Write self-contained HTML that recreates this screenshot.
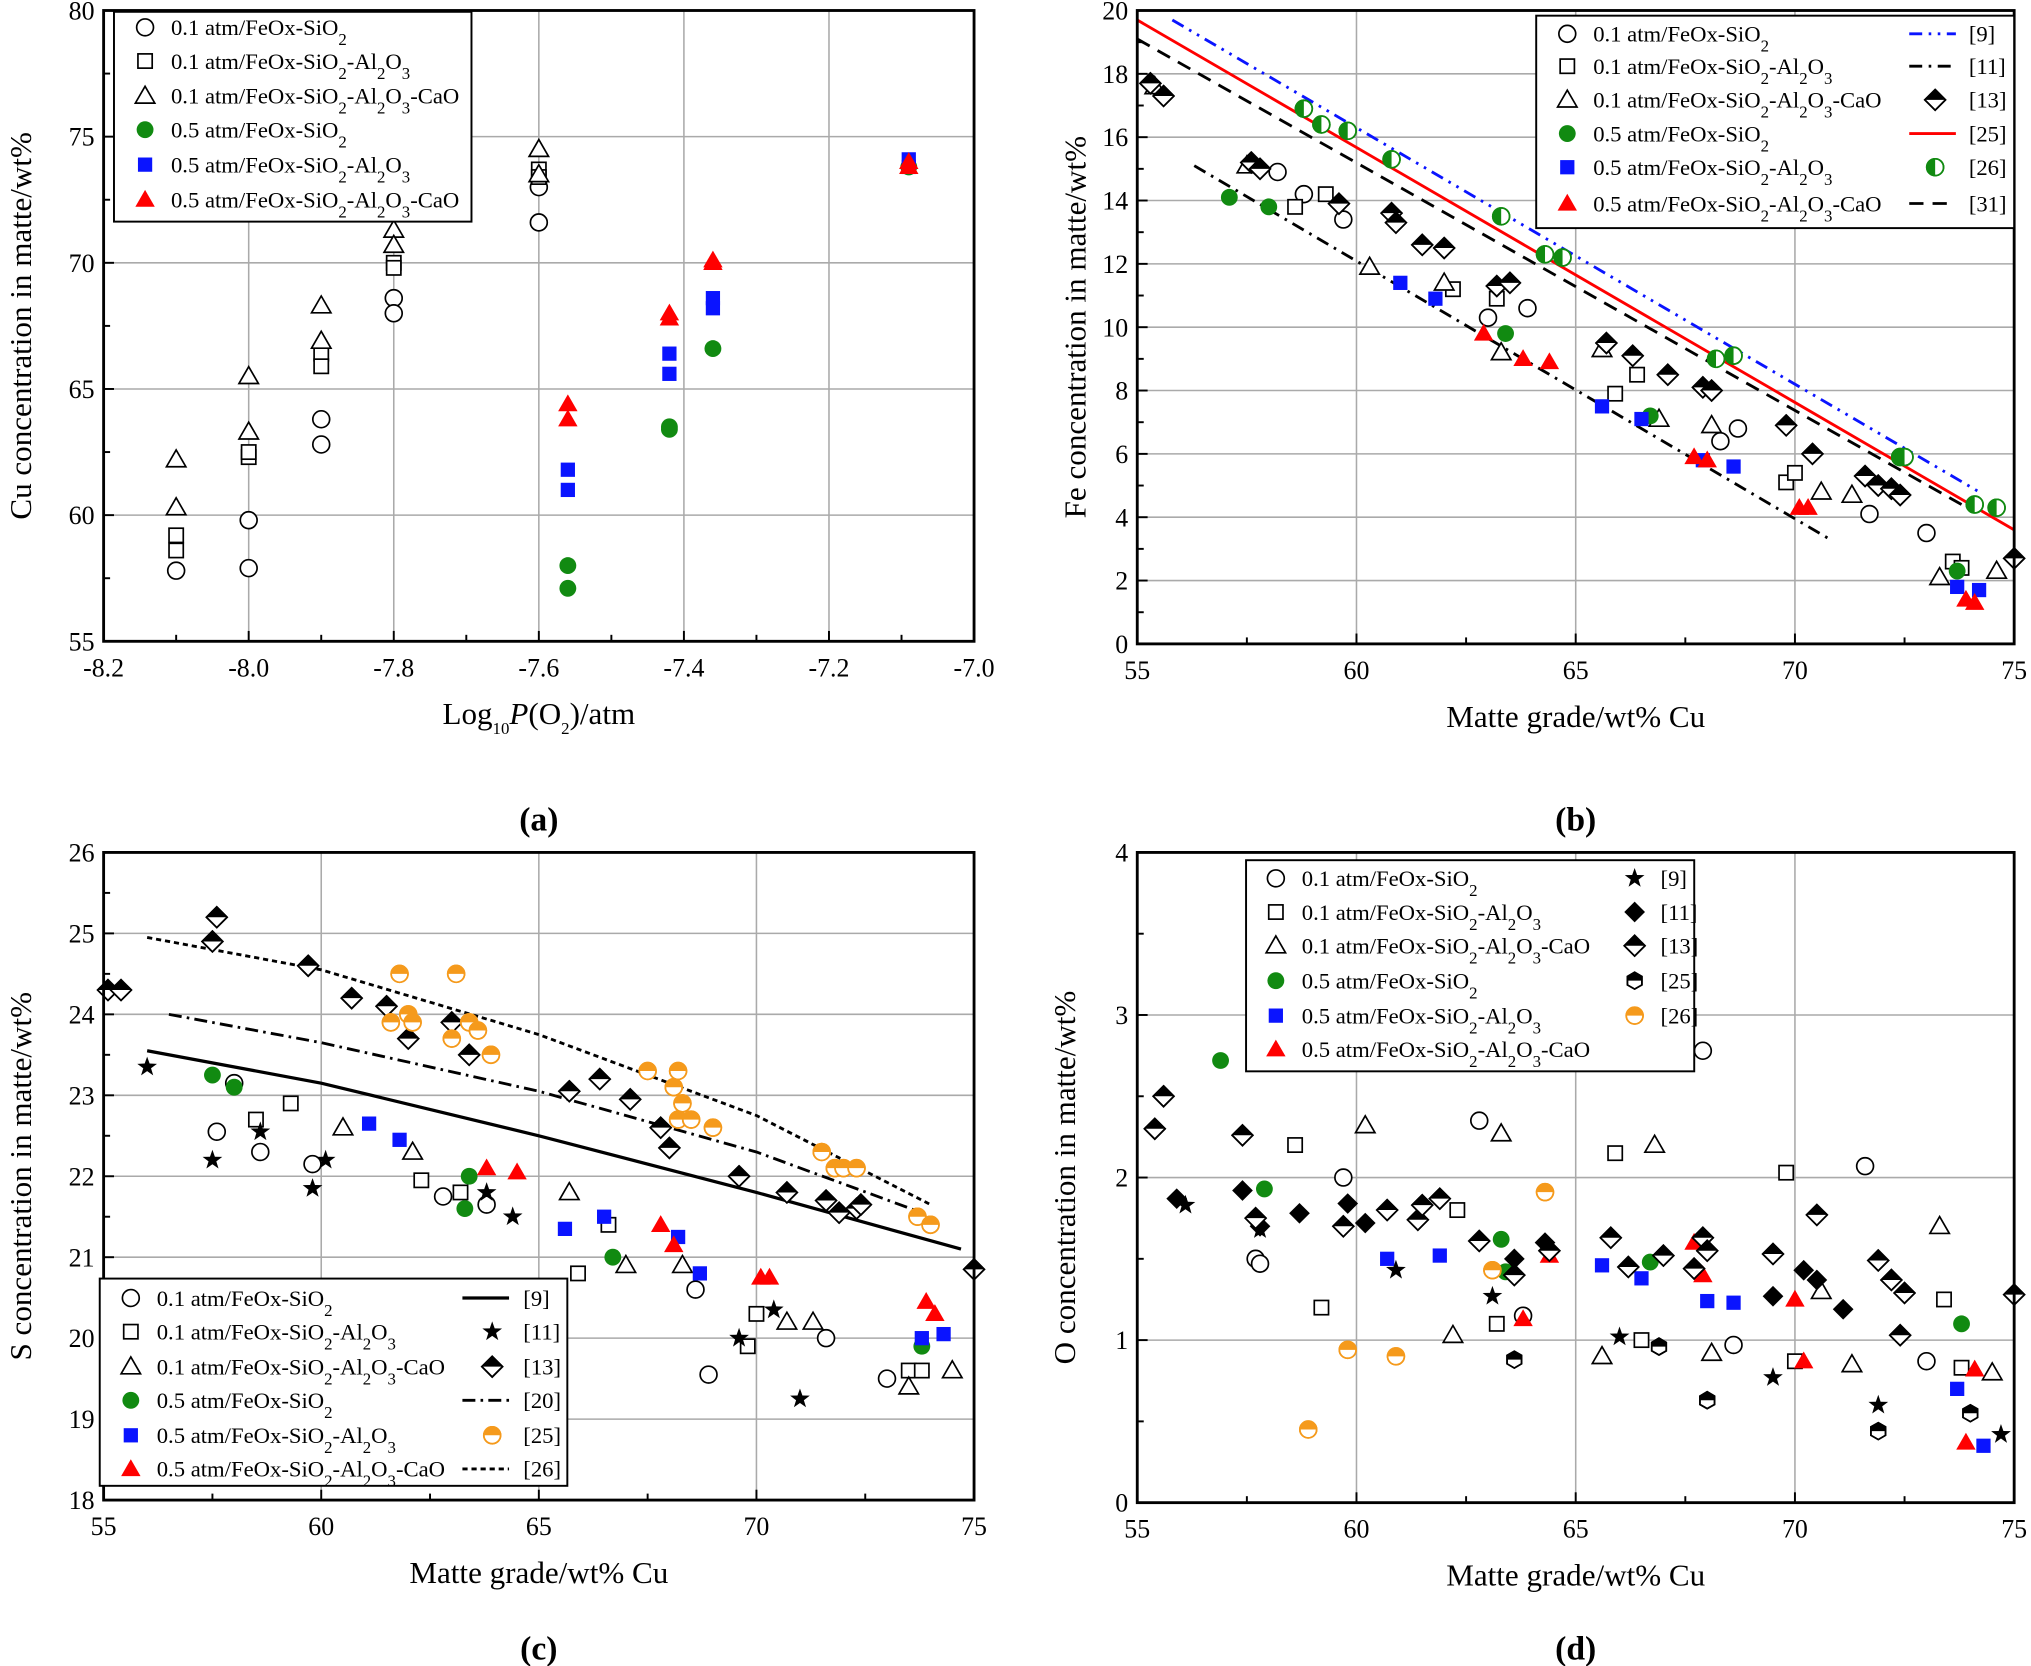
<!DOCTYPE html>
<html><head><meta charset="utf-8"><style>
html,body{margin:0;padding:0;background:#fff;}
svg{display:block;font-family:"Liberation Serif",serif;}
</style></head><body>
<svg id="root" width="2031" height="1666" viewBox="0 0 1568 1286" xmlns="http://www.w3.org/2000/svg">
<defs>
<clipPath id="hl" clipPathUnits="objectBoundingBox"><rect x="0" y="0" width="0.5" height="1"/></clipPath>
<clipPath id="ht" clipPathUnits="objectBoundingBox"><rect x="0" y="0" width="1" height="0.5"/></clipPath>
</defs>
</svg>
<script>
// ---------- Panel (a) data ----------
const aCircle=[[-8.1,57.8],[-8.0,59.8],[-8.0,57.9],[-7.9,63.8],[-7.9,62.8],[-7.8,68.6],[-7.8,68.0],[-7.6,73.0],[-7.6,71.6]];
const aSquare=[[-8.1,59.2],[-8.1,58.6],[-8.0,62.3],[-8.0,62.5],[-7.9,66.4],[-7.9,65.9],[-7.8,70.0],[-7.8,69.8],[-7.6,73.7],[-7.6,73.4]];
const aTri=[[-8.1,62.2],[-8.1,60.3],[-8.0,65.5],[-8.0,63.3],[-7.9,68.3],[-7.9,66.9],[-7.8,71.3],[-7.8,70.7],[-7.6,74.5],[-7.6,73.5]];
const aGreen=[[-7.56,58.0],[-7.56,57.1],[-7.42,63.5],[-7.42,63.4],[-7.36,66.6],[-7.09,73.8]];
const aBlue=[[-7.56,61.8],[-7.56,61.0],[-7.42,66.4],[-7.42,65.6],[-7.36,68.6],[-7.36,68.2],[-7.09,74.1],[-7.09,73.8]];
const aRed=[[-7.56,64.4],[-7.56,63.8],[-7.42,68.0],[-7.42,67.8],[-7.36,70.1],[-7.36,70.0],[-7.09,74.0],[-7.09,73.8]];
const aXTicks=[-8.2,-8.0,-7.8,-7.6,-7.4,-7.2,-7.0];
const aXLabels=["-8.2","-8.0","-7.8","-7.6","-7.4","-7.2","-7.0"];
const aYTicks=[55,60,65,70,75,80];
// ---------- Panel (b) data ----------
const bCircle=[[58.2,14.9],[58.8,14.2],[59.7,13.4],[63.0,10.3],[63.9,10.6],[68.3,6.4],[68.7,6.8],[71.7,4.1],[73.0,3.5]];
const bSquare=[[58.6,13.8],[59.3,14.2],[62.2,11.2],[63.2,10.9],[65.9,7.9],[66.4,8.5],[69.8,5.1],[70.0,5.4],[73.6,2.6],[73.8,2.4]];
const bTri=[[55.4,17.6],[57.5,15.1],[60.3,11.9],[62.0,11.4],[63.3,9.2],[65.6,9.3],[66.9,7.1],[68.1,6.9],[70.6,4.8],[71.3,4.7],[73.3,2.1],[74.6,2.3]];
const bGreen=[[57.1,14.1],[58.0,13.8],[63.4,9.8],[66.7,7.2],[73.7,2.3]];
const bBlue=[[61.0,11.4],[61.8,10.9],[65.6,7.5],[66.5,7.1],[67.9,5.8],[68.6,5.6],[73.7,1.8],[74.2,1.7]];
const bRed=[[62.9,9.8],[63.8,9.0],[64.4,8.9],[67.7,5.9],[68.0,5.8],[70.1,4.3],[70.3,4.3],[73.9,1.4],[74.1,1.3]];
const bRef13=[[55.3,17.7],[55.6,17.3],[57.6,15.2],[57.8,15.0],[59.6,13.9],[60.8,13.6],[60.9,13.3],[61.5,12.6],[62.0,12.5],[63.2,11.3],[63.5,11.4],[65.7,9.5],[66.3,9.1],[67.1,8.5],[67.9,8.1],[68.1,8.0],[69.8,6.9],[70.4,6.0],[71.6,5.3],[71.9,5.0],[72.2,4.9],[72.4,4.7],[75.0,2.7]];
const bRef26=[[58.8,16.9],[59.2,16.4],[59.8,16.2],[60.8,15.3],[63.3,13.5],[64.3,12.3],[64.7,12.2],[68.2,9.0],[68.6,9.1],[72.4,5.9],[72.5,5.9],[74.1,4.4],[74.6,4.3]];
const bLine9=[[55.8,19.7],[74.2,4.8]];
const bLine11=[[56.3,15.1],[70.8,3.3]];
const bLine25=[[55,19.7],[75,3.6]];
const bLine31=[[55,19.1],[73.8,4.4]];
const bXTicks=[55,60,65,70,75];
const bYTicks=[0,2,4,6,8,10,12,14,16,18,20];
// ---------- Panel (c) data ----------
const cCircle=[[57.6,22.55],[58.0,23.15],[58.6,22.3],[59.8,22.15],[62.8,21.75],[63.8,21.65],[68.6,20.6],[68.9,19.55],[71.6,20.0],[73.0,19.5]];
const cSquare=[[58.5,22.7],[59.3,22.9],[62.3,21.95],[63.2,21.8],[65.9,20.8],[66.6,21.4],[70.0,20.3],[69.8,19.9],[73.5,19.6],[73.8,19.6]];
const cTri=[[60.5,22.6],[62.1,22.3],[65.7,21.8],[67.0,20.9],[68.3,20.9],[70.7,20.2],[71.3,20.2],[73.5,19.4],[74.5,19.6]];
const cGreen=[[57.5,23.25],[58.0,23.1],[63.4,22.0],[63.3,21.6],[66.7,21.0],[73.8,19.9]];
const cBlue=[[61.1,22.65],[61.8,22.45],[65.6,21.35],[66.5,21.5],[68.2,21.25],[68.7,20.8],[73.8,20.0],[74.3,20.05]];
const cRed=[[63.8,22.1],[64.5,22.05],[67.8,21.4],[68.1,21.15],[70.1,20.75],[70.3,20.75],[73.9,20.45],[74.1,20.3]];
const cRef11=[[56.0,23.35],[57.5,22.2],[58.6,22.55],[59.8,21.85],[60.1,22.2],[63.8,21.8],[64.4,21.5],[69.6,20.0],[70.4,20.35],[71.0,19.25]];
const cRef13=[[55.1,24.3],[55.4,24.3],[57.5,24.9],[57.6,25.2],[59.7,24.6],[60.7,24.2],[61.5,24.1],[62.0,23.7],[63.0,23.9],[63.4,23.5],[65.7,23.05],[66.4,23.2],[67.1,22.95],[67.8,22.6],[68.0,22.35],[69.6,22.0],[70.7,21.8],[71.6,21.7],[71.9,21.55],[72.3,21.6],[72.4,21.65],[75.0,20.85]];
const cRef25=[[61.6,23.9],[61.8,24.5],[62.0,24.0],[62.1,23.9],[63.1,24.5],[63.0,23.7],[63.4,23.9],[63.6,23.8],[63.9,23.5],[67.5,23.3],[68.1,23.1],[68.2,23.3],[68.3,22.9],[68.2,22.7],[68.5,22.7],[69.0,22.6],[71.5,22.3],[71.8,22.1],[72.0,22.1],[72.3,22.1],[73.7,21.5],[74.0,21.4]];
const cLine9=[[56,23.55],[60,23.15],[65,22.5],[70,21.8],[74.7,21.1]];
const cLine20=[[56.5,24.0],[60,23.65],[65,23.05],[70,22.3],[73.8,21.55]];
const cLine26=[[56,24.95],[60,24.55],[65,23.75],[70,22.75],[74,21.65]];
const cXTicks=[55,60,65,70,75];
const cYTicks=[18,19,20,21,22,23,24,25,26];
// ---------- Panel (d) data ----------
const dCircle=[[57.7,1.5],[57.8,1.47],[59.7,2.0],[62.8,2.35],[63.8,1.15],[68.6,0.97],[67.9,2.78],[71.6,2.07],[73.0,0.87]];
const dSquare=[[58.6,2.2],[59.2,1.2],[62.3,1.8],[63.2,1.1],[65.9,2.15],[66.5,1.0],[69.8,2.03],[70.0,0.87],[73.4,1.25],[73.8,0.83]];
const dTri=[[60.2,2.32],[62.2,1.03],[63.3,2.27],[65.6,0.9],[66.8,2.2],[68.1,0.92],[70.6,1.3],[71.3,0.85],[73.3,1.7],[74.5,0.8]];
const dGreen=[[56.9,2.72],[57.9,1.93],[63.3,1.62],[63.4,1.42],[66.7,1.48],[73.8,1.1]];
const dBlue=[[60.7,1.5],[61.9,1.52],[65.6,1.46],[66.5,1.38],[68.0,1.24],[68.6,1.23],[73.7,0.7],[74.3,0.35]];
const dRed=[[63.8,1.13],[64.4,1.52],[67.7,1.6],[67.9,1.4],[70.0,1.25],[70.2,0.87],[73.9,0.37],[74.1,0.82]];
const dRef9=[[56.1,1.83],[57.8,1.68],[60.9,1.43],[63.1,1.27],[66.0,1.02],[69.5,0.77],[71.9,0.6],[74.7,0.42]];
const dRef11=[[55.9,1.87],[57.4,1.92],[57.8,1.7],[58.7,1.78],[59.8,1.84],[60.2,1.72],[63.6,1.5],[64.3,1.6],[69.5,1.27],[70.2,1.43],[70.5,1.37],[71.1,1.19]];
const dRef13=[[55.4,2.3],[55.6,2.5],[57.4,2.26],[57.7,1.75],[59.7,1.7],[60.7,1.8],[61.4,1.74],[61.5,1.83],[61.9,1.87],[62.8,1.61],[63.6,1.4],[64.4,1.55],[65.8,1.63],[66.2,1.45],[67.0,1.52],[67.9,1.63],[67.7,1.44],[68.0,1.55],[69.5,1.53],[70.5,1.77],[71.9,1.49],[72.2,1.37],[72.5,1.29],[72.4,1.03],[75.0,1.28]];
const dRef25=[[63.6,0.88],[66.9,0.96],[68.0,0.63],[71.9,0.44],[74.0,0.55]];
const dRef26=[[58.9,0.45],[59.8,0.94],[60.9,0.9],[63.1,1.43],[64.3,1.91]];
const dXTicks=[55,60,65,70,75];
const dYTicks=[0,1,2,3,4];

const NS="http://www.w3.org/2000/svg";
const root=document.getElementById('root');
function el(tag,attrs,parent){const e=document.createElementNS(NS,tag);for(const k in attrs)e.setAttribute(k,attrs[k]);(parent||root).appendChild(e);return e;}

function shapePath(shape,x,y){
  const r=6.5;
  if(shape==='circle')return {tag:'circle',a:{cx:x,cy:y,r:r}};
  if(shape==='square')return {tag:'rect',a:{x:x-5.5,y:y-5.5,width:11,height:11}};
  if(shape==='tri')return {tag:'polygon',a:{points:`${x},${y-7.5} ${x-7.5},${y+5.5} ${x+7.5},${y+5.5}`}};
  if(shape==='diamond')return {tag:'polygon',a:{points:`${x},${y-8} ${x+8},${y} ${x},${y+8} ${x-8},${y}`}};
  if(shape==='hex'){let p=[];for(let i=0;i<6;i++){const t=Math.PI/3*i+Math.PI/6;p.push((x+6.5*Math.cos(t)).toFixed(1)+','+(y+6.5*Math.sin(t)).toFixed(1));}return {tag:'polygon',a:{points:p.join(' ')}};}
  if(shape==='star'){let p=[];for(let i=0;i<10;i++){const rr=i%2?3.2:8;const t=-Math.PI/2+Math.PI/5*i;p.push((x+rr*Math.cos(t)).toFixed(1)+','+(y+rr*Math.sin(t)).toFixed(1));}return {tag:'polygon',a:{points:p.join(' ')}};}
}
function drawMarker(g,style,x,y){
  const s=shapePath(style.shape,x,y);
  if(style.half){
    el(s.tag,Object.assign({},s.a,{fill:'#fff',stroke:style.stroke||'#000','stroke-width':1.3}),g);
    el(s.tag,Object.assign({},s.a,{fill:style.fill,stroke:'none','clip-path':'url(#'+style.half+')'}),g);
    el(s.tag,Object.assign({},s.a,{fill:'none',stroke:style.stroke||'#000','stroke-width':1.3}),g);
  } else {
    el(s.tag,Object.assign({},s.a,{fill:style.fill,stroke:style.stroke||'none','stroke-width':1.3}),g);
  }
}
const ST={
  circle:{shape:'circle',fill:'#fff',stroke:'#000'},
  square:{shape:'square',fill:'#fff',stroke:'#000'},
  tri:{shape:'tri',fill:'#fff',stroke:'#000'},
  green:{shape:'circle',fill:'#118a11'},
  blue:{shape:'square',fill:'#0a14ff'},
  red:{shape:'tri',fill:'#ff0000'},
  star:{shape:'star',fill:'#000'},
  diamondFull:{shape:'diamond',fill:'#000'},
  diamondHalf:{shape:'diamond',fill:'#000',half:'ht'},
  hexHalf:{shape:'hex',fill:'#000',half:'ht'},
  greenHalf:{shape:'circle',fill:'#118a11',stroke:'#118a11',half:'hl'},
  orangeHalf:{shape:'circle',fill:'#f59a1c',stroke:'#f59a1c',half:'ht'}
};

function panel(cfg){
  const g=el('g',{});
  
  
  const {L,R,T,B,x0,x1,y0,y1}=cfg;
  const sx=v=>L+(v-x0)/(x1-x0)*(R-L);
  const sy=v=>B-(v-y0)/(y1-y0)*(B-T);
  cfg.xTicks.forEach(v=>{if(v>x0&&v<x1){const l=el('line',{x1:sx(v),x2:sx(v),y1:T,y2:B,stroke:'#aaa','stroke-width':1.2},g);}});
  cfg.yTicks.forEach(v=>{if(v>y0&&v<y1){const l=el('line',{x1:L,x2:R,y1:sy(v),y2:sy(v),stroke:'#aaa','stroke-width':1.2},g);}});
  for(let i=0;i<cfg.xTicks.length-1;i++){const m=(cfg.xTicks[i]+cfg.xTicks[i+1])/2;el('line',{x1:sx(m),x2:sx(m),y1:B,y2:B-5,stroke:'#000','stroke-width':1.5},g);}
  for(let i=0;i<cfg.yTicks.length-1;i++){const m=(cfg.yTicks[i]+cfg.yTicks[i+1])/2;el('line',{x1:L,x2:L+5,y1:sy(m),y2:sy(m),stroke:'#000','stroke-width':1.5},g);}
  cfg.xTicks.forEach((v,i)=>{el('line',{x1:sx(v),x2:sx(v),y1:B,y2:B-8,stroke:'#000','stroke-width':1.5},g);
    const t=el('text',{x:sx(v),y:B+27,'text-anchor':'middle','font-size':20},g);t.textContent=cfg.xLabels?cfg.xLabels[i]:String(v);
    });
  cfg.yTicks.forEach(v=>{el('line',{x1:L,x2:L+8,y1:sy(v),y2:sy(v),stroke:'#000','stroke-width':1.5},g);
    const t=el('text',{x:L-7,y:sy(v)+7,'text-anchor':'end','font-size':20},g);t.textContent=String(v);
    });
  (cfg.lines||[]).forEach(ln=>{
    const p=el('polyline',{points:ln.data.map(d=>sx(d[0])+','+sy(d[1])).join(' '),fill:'none',stroke:ln.color,'stroke-width':ln.w||2.2,'stroke-dasharray':ln.dash||'none'},g);
    
  });
  cfg.series.forEach(s=>{
    const sg=el('g',{},g);
    
    
    s.data.forEach(d=>drawMarker(sg,s.style,sx(d[0]),sy(d[1])));
  });
  const f=el('rect',{x:L,y:T,width:R-L,height:B-T,fill:'none',stroke:'#000','stroke-width':2.2},g);
  
  const lg=cfg.legend;
  const lgG=el('g',{},g);
  
  
  el('rect',{x:lg.x,y:lg.y,width:lg.w,height:lg.h,fill:'#fff',stroke:'#000','stroke-width':1.5},lgG);
  lg.items.forEach(it=>{
    const eg=el('g',{},lgG);
    
    
    if(it.style)drawMarker(eg,it.style,it.mx,it.y);
    if(it.line)el('line',{x1:it.mx-20,x2:it.mx+16,y1:it.y,y2:it.y,stroke:it.line.color,'stroke-width':it.line.w||2.2,'stroke-dasharray':it.line.dash||'none'},eg);
    const t=el('text',{x:it.tx,y:it.y+6,'font-size':17.5},eg);t.innerHTML=it.label;
  });
  const xt=el('text',{x:(L+R)/2,y:B+64,'text-anchor':'middle','font-size':24},g);xt.innerHTML=cfg.xTitle;
  
  const yt=el('text',{x:0,y:0,'text-anchor':'middle','font-size':24,transform:`translate(${cfg.yTitleX},${(T+B)/2}) rotate(-90)`},g);yt.textContent=cfg.yTitle;
  
  const cap=el('text',{x:(L+R)/2,y:cfg.capY,'text-anchor':'middle','font-size':26,'font-weight':'bold'},g);cap.textContent=cfg.caption;
  
}
const sub=s=>`<tspan baseline-shift="sub" font-size="13">${s}</tspan>`;
const L1='0.1 atm/FeOx-SiO'+sub('2');
const L2='0.1 atm/FeOx-SiO'+sub('2')+'-Al'+sub('2')+'O'+sub('3');
const L3='0.1 atm/FeOx-SiO'+sub('2')+'-Al'+sub('2')+'O'+sub('3')+'-CaO';
const L4='0.5 atm/FeOx-SiO'+sub('2');
const L5='0.5 atm/FeOx-SiO'+sub('2')+'-Al'+sub('2')+'O'+sub('3');
const L6='0.5 atm/FeOx-SiO'+sub('2')+'-Al'+sub('2')+'O'+sub('3')+'-CaO';
function baseItems(mx,tx,ys){const st=[ST.circle,ST.square,ST.tri,ST.green,ST.blue,ST.red];const lb=[L1,L2,L3,L4,L5,L6];return ys.map((y,i)=>({style:st[i],mx,tx,y,label:lb[i]}));}
const six=(a,b,c,d,e,f)=>[
 {name:'series-0.1atm-FeOx-SiO2',data:a,style:ST.circle},
 {name:'series-0.1atm-FeOx-SiO2-Al2O3',data:b,style:ST.square},
 {name:'series-0.1atm-FeOx-SiO2-Al2O3-CaO',data:c,style:ST.tri},
 {name:'series-0.5atm-FeOx-SiO2',data:d,style:ST.green},
 {name:'series-0.5atm-FeOx-SiO2-Al2O3',data:e,style:ST.blue},
 {name:'series-0.5atm-FeOx-SiO2-Al2O3-CaO',data:f,style:ST.red}];

const bYs=[26,51,77,103,129,157];
panel({name:'panel-a',L:80,R:752,T:8,B:495,x0:-8.2,x1:-7.0,y0:55,y1:80,xTicks:aXTicks,xLabels:aXLabels,yTicks:aYTicks,
 series:six(aCircle,aSquare,aTri,aGreen,aBlue,aRed),
 legend:{x:88,y:9,w:276,h:162,items:baseItems(112,132,[21,47,74,100,127,154])},
 xTitle:'Log'+sub('10')+'<tspan font-style="italic">P</tspan>(O'+sub('2')+')/atm',yTitle:'Cu concentration in matte/wt%',yTitleX:24,caption:'(a)',capY:641});

panel({name:'panel-b',L:878,R:1555,T:8,B:497,x0:55,x1:75,y0:0,y1:20,xTicks:bXTicks,yTicks:bYTicks,
 lines:[{name:'line-ref-9',data:bLine9,color:'#0a14ff',dash:'10 5 2 5 2 5'},{name:'line-ref-11',data:bLine11,color:'#000',dash:'10 5 2 5'},{name:'line-ref-25',data:bLine25,color:'#ff0000'},{name:'line-ref-31',data:bLine31,color:'#000',dash:'11 7'}],
 series:six(bCircle,bSquare,bTri,bGreen,bBlue,bRed).concat([{name:'series-ref-13',data:bRef13,style:ST.diamondHalf},{name:'series-ref-26',data:bRef26,style:ST.greenHalf}]),
 legend:{x:1186,y:12,w:369,h:164,items:baseItems(1210,1230,bYs).concat([
  {line:{color:'#0a14ff',dash:'10 5 2 5 2 5'},mx:1494,tx:1520,y:bYs[0],label:'[9]'},
  {line:{color:'#000',dash:'10 5 2 5'},mx:1494,tx:1520,y:bYs[1],label:'[11]'},
  {style:ST.diamondHalf,mx:1494,tx:1520,y:bYs[2],label:'[13]'},
  {line:{color:'#ff0000'},mx:1494,tx:1520,y:bYs[3],label:'[25]'},
  {style:ST.greenHalf,mx:1494,tx:1520,y:bYs[4],label:'[26]'},
  {line:{color:'#000',dash:'11 7'},mx:1494,tx:1520,y:bYs[5],label:'[31]'}])},
 xTitle:'Matte grade/wt% Cu',yTitle:'Fe concentration in matte/wt%',yTitleX:838,caption:'(b)',capY:641});

const cYs=[1002,1028,1055,1081,1108,1134];
panel({name:'panel-c',L:80,R:752,T:658,B:1158,x0:55,x1:75,y0:18,y1:26,xTicks:cXTicks,yTicks:cYTicks,
 lines:[{name:'line-ref-9',data:cLine9,color:'#000',w:2.5},{name:'line-ref-20',data:cLine20,color:'#000',dash:'10 4 2 4'},{name:'line-ref-26',data:cLine26,color:'#000',dash:'4 3'}],
 series:six(cCircle,cSquare,cTri,cGreen,cBlue,cRed).concat([{name:'series-ref-11',data:cRef11,style:ST.star},{name:'series-ref-13',data:cRef13,style:ST.diamondHalf},{name:'series-ref-25',data:cRef25,style:ST.orangeHalf}]),
 legend:{x:77,y:987,w:361,h:160,items:baseItems(101,121,cYs).concat([
  {line:{color:'#000',w:2.5},mx:377,tx:404,y:cYs[0],label:'[9]'},
  {style:ST.star,mx:380,tx:404,y:cYs[1],label:'[11]'},
  {style:ST.diamondHalf,mx:380,tx:404,y:cYs[2],label:'[13]'},
  {line:{color:'#000',dash:'10 4 2 4'},mx:377,tx:404,y:cYs[3],label:'[20]'},
  {style:ST.orangeHalf,mx:380,tx:404,y:cYs[4],label:'[25]'},
  {line:{color:'#000',dash:'4 3'},mx:377,tx:404,y:cYs[5],label:'[26]'}])},
 xTitle:'Matte grade/wt% Cu',yTitle:'S concentration in matte/wt%',yTitleX:24,caption:'(c)',capY:1281});

const dYs=[678,704,730,757,784,810];
panel({name:'panel-d',L:878,R:1555,T:658,B:1160,x0:55,x1:75,y0:0,y1:4,xTicks:dXTicks,yTicks:dYTicks,
 series:six(dCircle,dSquare,dTri,dGreen,dBlue,dRed).concat([{name:'series-ref-9',data:dRef9,style:ST.star},{name:'series-ref-11',data:dRef11,style:ST.diamondFull},{name:'series-ref-13',data:dRef13,style:ST.diamondHalf},{name:'series-ref-25',data:dRef25,style:ST.hexHalf},{name:'series-ref-26',data:dRef26,style:ST.orangeHalf}]),
 legend:{x:962,y:664,w:346,h:163,items:baseItems(985,1005,dYs).concat([
  {style:ST.star,mx:1262,tx:1282,y:dYs[0],label:'[9]'},
  {style:ST.diamondFull,mx:1262,tx:1282,y:dYs[1],label:'[11]'},
  {style:ST.diamondHalf,mx:1262,tx:1282,y:dYs[2],label:'[13]'},
  {style:ST.hexHalf,mx:1262,tx:1282,y:dYs[3],label:'[25]'},
  {style:ST.orangeHalf,mx:1262,tx:1282,y:dYs[4],label:'[26]'}])},
 xTitle:'Matte grade/wt% Cu',yTitle:'O concentration in matte/wt%',yTitleX:830,caption:'(d)',capY:1281});
</script>
</body></html>
